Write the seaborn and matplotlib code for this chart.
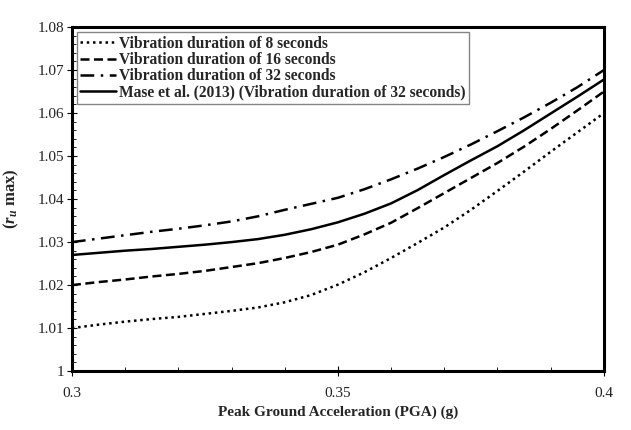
import pandas as pd
import matplotlib.pyplot as plt
import seaborn as sns
from matplotlib.ticker import MultipleLocator

# Peak ground acceleration (g)
pga = [0.300, 0.305, 0.310, 0.315, 0.320, 0.325, 0.330, 0.335, 0.340, 0.345, 0.350,
       0.355, 0.360, 0.365, 0.370, 0.375, 0.380, 0.385, 0.390, 0.395, 0.400]

# r_u max
ru_8s = [1.0100, 1.0108, 1.0115, 1.0121, 1.0126, 1.0133, 1.0140, 1.0148, 1.0160, 1.0177, 1.0201,
         1.0230, 1.0263, 1.0298, 1.0334, 1.0375, 1.0419, 1.0464, 1.0510, 1.0555, 1.0600]
ru_16s = [1.0200, 1.0207, 1.0213, 1.0220, 1.0226, 1.0233, 1.0242, 1.0251, 1.0263, 1.0277, 1.0294,
          1.0318, 1.0345, 1.0379, 1.0414, 1.0449, 1.0484, 1.0522, 1.0563, 1.0606, 1.0650]
ru_32s = [1.0300, 1.0308, 1.0316, 1.0324, 1.0331, 1.0339, 1.0348, 1.0360, 1.0375, 1.0389, 1.0403,
          1.0423, 1.0446, 1.0471, 1.0498, 1.0527, 1.0558, 1.0590, 1.0624, 1.0660, 1.0700]
ru_mase = [1.0270, 1.0275, 1.0280, 1.0284, 1.0289, 1.0294, 1.0300, 1.0307, 1.0317, 1.0330, 1.0346,
           1.0366, 1.0390, 1.0421, 1.0456, 1.0490, 1.0523, 1.0560, 1.0599, 1.0638, 1.0678]

labels = [
    'Vibration duration of 8 seconds',
    'Vibration duration of 16 seconds',
    'Vibration duration of 32 seconds',
    'Mase et al. (2013) (Vibration duration of 32 seconds)',
]
styles = [(0, (1, 1.5)), (0, (3.6, 1.8)), (0, (5.5, 2.6, 1, 2.6)), '-']

x_ticks = [0.3, 0.35, 0.4]
x_tick_labels = ['0.3', '0.35', '0.4']
y_ticks = [1.0, 1.01, 1.02, 1.03, 1.04, 1.05, 1.06, 1.07, 1.08]
y_tick_labels = ['1', '1.01', '1.02', '1.03', '1.04', '1.05', '1.06', '1.07', '1.08']

sns.set_theme(style="ticks")
plt.rcParams['font.family'] = ['Liberation Serif', 'DejaVu Serif']
plt.rcParams['mathtext.fontset'] = 'custom'
plt.rcParams['mathtext.rm'] = 'Liberation Serif'
plt.rcParams['mathtext.it'] = 'Liberation Serif:italic'
plt.rcParams['mathtext.bf'] = 'Liberation Serif:bold'
plt.rcParams['mathtext.bfit'] = 'Liberation Serif:italic:bold'

fig = plt.figure(figsize=(6.31, 4.30), dpi=100)
ax = fig.add_axes([0.114, 0.137, 0.843, 0.800])

for series, lab, ls in zip([ru_8s, ru_16s, ru_32s, ru_mase], labels, styles):
    df = pd.DataFrame({'PGA': pga, 'ru': series})
    sns.lineplot(x='PGA', y='ru', data=df, ax=ax, color='black',
                 linestyle=ls, linewidth=1.8, label=lab)

ax.set_xlim(0.3, 0.4)
ax.set_ylim(1.0, 1.08)
ax.set_xticks(x_ticks)
ax.set_xticklabels(x_tick_labels)
ax.set_yticks(y_ticks)
ax.set_yticklabels(y_tick_labels)
ax.xaxis.set_minor_locator(MultipleLocator(0.01))
ax.yaxis.set_minor_locator(MultipleLocator(0.002))

ax.tick_params(axis='both', which='major', direction='inout', length=7, width=0.8,
               labelsize=11, color='black', labelcolor='#222222')
ax.tick_params(axis='x', which='major', pad=8)
ax.tick_params(axis='y', which='major', pad=2)
ax.tick_params(axis='both', which='minor', direction='in', length=3, width=0.6, color='black')

for side in ['left', 'right', 'top', 'bottom']:
    ax.spines[side].set_visible(True)
    ax.spines[side].set_linewidth(2.2)
    ax.spines[side].set_color('black')

ax.set_xlabel('Peak Ground Acceleration (PGA) (g)', fontsize=11, fontweight='bold', labelpad=4)
ax.set_ylabel(r'($\mathbfit{r}_{\mathbfit{u}}$ max)', fontsize=12, fontweight='bold', labelpad=12)

leg = ax.legend(loc='upper left', frameon=True, fancybox=False,
                handlelength=2.3, handletextpad=0.15, borderpad=0.25, labelspacing=0.02,
                borderaxespad=0.3, prop={'weight': 'bold', 'size': 11.2})
leg.get_frame().set_edgecolor('#666666')
leg.get_frame().set_linewidth(1.0)

plt.savefig('out.png', dpi=100)
plt.close()
